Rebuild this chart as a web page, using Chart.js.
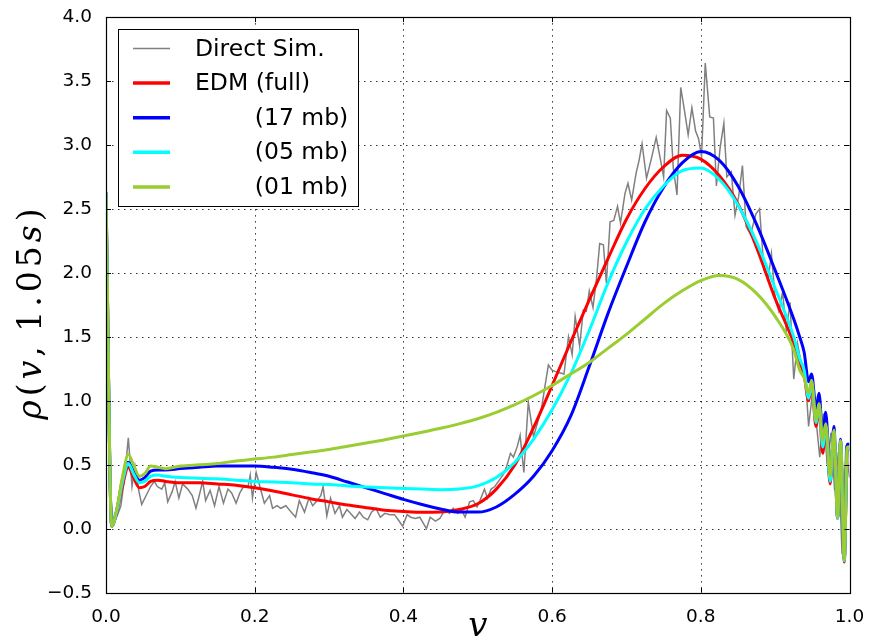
<!DOCTYPE html>
<html>
<head>
<meta charset="utf-8">
<script src="https://cdn.jsdelivr.net/npm/chart.js@4.4.0/dist/chart.umd.min.js"></script>
<style>
html, body { margin: 0; padding: 0; background: #fff; }
</style>
</head>
<body>
<canvas id="rhoChart" width="873" height="644"></canvas>
<script>
// direct simulation (noisy gray line)
const simV = [0, 0.005, 0.01, 0.015, 0.02, 0.025, 0.03, 0.035, 0.039, 0.044, 0.048, 0.054, 0.06, 0.065, 0.069, 0.075, 0.079, 0.083, 0.089, 0.093,
    0.098, 0.103, 0.11, 0.116, 0.121, 0.125, 0.13, 0.134, 0.14, 0.146, 0.152, 0.158, 0.164, 0.169, 0.175, 0.18, 0.185, 0.191, 0.194, 0.197,
    0.202, 0.207, 0.213, 0.22, 0.224, 0.23, 0.235, 0.242, 0.249, 0.255, 0.26, 0.267, 0.273, 0.278, 0.284, 0.289, 0.292, 0.297, 0.302, 0.308,
    0.314, 0.318, 0.324, 0.329, 0.335, 0.341, 0.346, 0.352, 0.357, 0.363, 0.369, 0.375, 0.382, 0.388, 0.393, 0.399, 0.405, 0.41, 0.416, 0.422,
    0.431, 0.436, 0.443, 0.449, 0.456, 0.462, 0.467, 0.473, 0.479, 0.483, 0.489, 0.494, 0.499, 0.503, 0.509, 0.513, 0.518, 0.523, 0.529, 0.535,
    0.539, 0.544, 0.548, 0.553, 0.557, 0.562, 0.568, 0.575, 0.581, 0.586, 0.59, 0.595, 0.6, 0.604, 0.61, 0.616, 0.622, 0.627, 0.631, 0.637,
    0.642, 0.646, 0.65, 0.655, 0.66, 0.664, 0.669, 0.673, 0.678, 0.683, 0.688, 0.692, 0.698, 0.702, 0.707, 0.713, 0.717, 0.721, 0.727, 0.733,
    0.74, 0.745, 0.75, 0.754, 0.759, 0.763, 0.768, 0.773, 0.778, 0.783, 0.788, 0.793, 0.797, 0.801, 0.806, 0.812, 0.817, 0.821, 0.826, 0.831,
    0.835, 0.841, 0.846, 0.851, 0.856, 0.861, 0.867, 0.874, 0.879, 0.885, 0.891, 0.895, 0.9, 0.905, 0.91, 0.915, 0.92, 0.925, 0.93, 0.935,
    0.94, 0.945, 0.95, 0.955, 0.96, 0.965, 0.97, 0.975, 0.98, 0.985, 0.99, 0.995, 1.0];
const simRho = [2.60, 0.30, 0.05, 0.10, 0.18, 0.40, 0.71, 0.33, 0.49, 0.30, 0.19, 0.26, 0.33, 0.37, 0.33, 0.31, 0.36, 0.21, 0.29, 0.37,
    0.24, 0.35, 0.31, 0.26, 0.16, 0.25, 0.37, 0.22, 0.30, 0.18, 0.33, 0.20, 0.31, 0.28, 0.20, 0.28, 0.33, 0.33, 0.42, 0.24,
    0.44, 0.33, 0.20, 0.26, 0.16, 0.18, 0.16, 0.18, 0.13, 0.09, 0.22, 0.13, 0.24, 0.18, 0.22, 0.26, 0.33, 0.10, 0.24, 0.12,
    0.18, 0.09, 0.15, 0.12, 0.08, 0.13, 0.09, 0.07, 0.13, 0.16, 0.09, 0.12, 0.11, 0.11, 0.07, 0.02, 0.11, 0.09, 0.08, 0.09,
    0.00, 0.09, 0.06, 0.08, 0.15, 0.12, 0.16, 0.12, 0.14, 0.09, 0.21, 0.22, 0.17, 0.22, 0.31, 0.24, 0.31, 0.33, 0.38, 0.43,
    0.49, 0.59, 0.56, 0.64, 0.73, 0.44, 0.99, 0.72, 0.84, 0.95, 1.10, 1.28, 1.24, 1.23, 1.22, 1.21, 1.50, 1.36, 1.66, 1.43,
    1.71, 1.70, 1.86, 1.73, 1.97, 2.23, 2.22, 1.92, 2.40, 2.41, 2.52, 2.39, 2.62, 2.70, 2.57, 2.78, 2.88, 3.01, 2.74, 2.88,
    3.06, 2.91, 2.75, 3.27, 3.21, 2.82, 2.61, 3.45, 3.27, 3.08, 3.29, 3.11, 3.05, 2.91, 3.64, 3.22, 3.21, 2.68, 2.98, 3.17,
    2.75, 2.79, 2.45, 2.60, 2.84, 2.36, 2.30, 2.46, 2.50, 2.02, 1.97, 2.15, 1.80, 1.70, 1.85, 1.55, 1.77, 1.17, 1.45, 1.30,
    1.25, 0.80, 1.05, 0.85, 0.56, 0.90, 0.50, 0.75, 0.30, 0.60, -0.20, 0.65, 0.40];

// EDM curves, all sampled on the same v values
const edmV = [0, 0.0077, 0.015, 0.022, 0.03, 0.037, 0.045, 0.052, 0.06, 0.07, 0.08,
    0.1, 0.125, 0.15, 0.175, 0.2, 0.225, 0.25, 0.275, 0.3, 0.325, 0.35, 0.375, 0.4, 0.425, 0.45, 0.475,
    0.5, 0.525, 0.55, 0.575, 0.6, 0.625, 0.65, 0.675, 0.7, 0.725, 0.75, 0.775, 0.8, 0.825, 0.85, 0.875, 0.9, 0.925,
    0.933, 0.939, 0.945, 0.949, 0.955, 0.959, 0.964, 0.968, 0.974, 0.979, 0.984, 0.988, 0.993, 0.997, 1.0];
const edmFull = [2.60, 0.02, 0.14, 0.33, 0.48, 0.40, 0.32, 0.33, 0.37, 0.38, 0.37,
    0.36, 0.36, 0.35, 0.34, 0.32, 0.295, 0.265, 0.235, 0.21, 0.185, 0.165, 0.145, 0.135, 0.128, 0.13, 0.15,
    0.195, 0.31, 0.50, 0.79, 1.12, 1.46, 1.79, 2.11, 2.42, 2.66, 2.83, 2.92, 2.89, 2.76, 2.54, 2.20, 1.80, 1.45,
    1.30, 1.20, 1.00, 1.12, 0.80, 0.95, 0.59, 0.80, 0.35, 0.75, 0.08, 0.67, -0.26, 0.62, 0.62];
const edm17 = [2.63, 0.02, 0.16, 0.38, 0.52, 0.45, 0.38, 0.40, 0.45, 0.46, 0.46,
    0.47, 0.48, 0.49, 0.49, 0.49, 0.48, 0.465, 0.44, 0.41, 0.365, 0.32, 0.275, 0.23, 0.19, 0.155, 0.13,
    0.13, 0.17, 0.27, 0.41, 0.61, 0.88, 1.27, 1.68, 2.05, 2.40, 2.67, 2.86, 2.95, 2.88, 2.68, 2.38, 2.02, 1.64,
    1.50, 1.38, 1.15, 1.21, 0.94, 1.06, 0.72, 0.91, 0.38, 0.80, 0.09, 0.70, -0.24, 0.66, 0.66];
const edm05 = [2.60, 0.02, 0.15, 0.36, 0.51, 0.43, 0.36, 0.37, 0.41, 0.42, 0.41,
    0.40, 0.395, 0.39, 0.38, 0.37, 0.365, 0.36, 0.35, 0.345, 0.335, 0.327, 0.32, 0.315, 0.31, 0.305, 0.31,
    0.335, 0.40, 0.52, 0.70, 0.93, 1.21, 1.55, 1.92, 2.24, 2.50, 2.68, 2.80, 2.82, 2.73, 2.53, 2.24, 1.88, 1.50,
    1.33, 1.24, 1.02, 1.14, 0.83, 0.97, 0.64, 0.81, 0.37, 0.76, 0.08, 0.68, -0.25, 0.63, 0.63];
const edm01 = [2.62, 0.02, 0.17, 0.40, 0.58, 0.50, 0.41, 0.43, 0.49, 0.48, 0.47,
    0.49, 0.50, 0.51, 0.53, 0.545, 0.56, 0.58, 0.60, 0.62, 0.645, 0.67, 0.695, 0.725, 0.755, 0.785, 0.82,
    0.86, 0.91, 0.97, 1.04, 1.12, 1.21, 1.30, 1.41, 1.52, 1.64, 1.76, 1.86, 1.94, 1.98, 1.95, 1.84, 1.66, 1.40,
    1.24, 1.18, 1.06, 1.16, 0.85, 0.98, 0.69, 0.82, 0.41, 0.77, 0.09, 0.69, -0.24, 0.64, 0.64];

const seriesLabels = ['Direct Sim.', 'EDM (full)', '        (17 mb)', '        (05 mb)', '        (01 mb)'];
const seriesColors = ['#808080', '#ff0000', '#0000ff', '#00ffff', '#9acd32'];

const toPoints = (xs, ys) => xs.map((x, i) => ({ x: x, y: ys[i] }));

function edmSet(idx, values) {
    return {
        label: seriesLabels[idx],
        data: toPoints(edmV, values),
        borderColor: seriesColors[idx],
        borderWidth: 3,
        pointRadius: 0,
        cubicInterpolationMode: 'monotone',
        order: 5 - idx
    };
}

// matplotlib-like frame, dotted grid, inward ticks, legend box and axis labels
const mplLook = {
    id: 'mplLook',
    beforeDatasetsDraw(chart) {
        const { ctx, chartArea: a, scales: { x, y } } = chart;
        ctx.save();
        ctx.strokeStyle = 'rgba(0,0,0,0.8)';
        ctx.lineWidth = 1;
        ctx.setLineDash([1.5, 4.5]);
        x.ticks.forEach(t => {
            const px = Math.round(x.getPixelForValue(t.value)) + 0.5;
            ctx.beginPath(); ctx.moveTo(px, a.top); ctx.lineTo(px, a.bottom); ctx.stroke();
        });
        y.ticks.forEach(t => {
            const py = Math.round(y.getPixelForValue(t.value)) + 0.5;
            ctx.beginPath(); ctx.moveTo(a.left, py); ctx.lineTo(a.right, py); ctx.stroke();
        });
        ctx.restore();
    },
    afterDatasetsDraw(chart) {
        const { ctx, chartArea: a, scales: { x, y } } = chart;
        ctx.save();
        ctx.strokeStyle = '#000';
        ctx.lineWidth = 1;
        ctx.setLineDash([]);
        const tl = 5;
        x.ticks.forEach(t => {
            const px = Math.round(x.getPixelForValue(t.value)) + 0.5;
            ctx.beginPath();
            ctx.moveTo(px, a.bottom); ctx.lineTo(px, a.bottom - tl);
            ctx.moveTo(px, a.top); ctx.lineTo(px, a.top + tl);
            ctx.stroke();
        });
        y.ticks.forEach(t => {
            const py = Math.round(y.getPixelForValue(t.value)) + 0.5;
            ctx.beginPath();
            ctx.moveTo(a.left, py); ctx.lineTo(a.left + tl, py);
            ctx.moveTo(a.right, py); ctx.lineTo(a.right - tl, py);
            ctx.stroke();
        });
        ctx.lineWidth = 1.2;
        ctx.strokeRect(Math.round(a.left) + 0.5, Math.round(a.top) + 0.5,
            Math.round(a.right - a.left), Math.round(a.bottom - a.top));

        // legend
        ctx.fillStyle = '#fff';
        ctx.fillRect(118, 29, 241, 178);
        ctx.lineWidth = 1;
        ctx.strokeStyle = '#000';
        ctx.strokeRect(118.5, 29.5, 240, 177);
        ctx.font = '23.5px "DejaVu Sans"';
        ctx.textBaseline = 'middle';
        ctx.textAlign = 'left';
        chart.data.datasets.forEach((ds, i) => {
            const ry = 48.5 + i * 34.6;
            ctx.strokeStyle = ds.borderColor;
            ctx.lineWidth = ds.borderWidth + (i === 0 ? 0 : 0.5);
            ctx.beginPath(); ctx.moveTo(133, ry); ctx.lineTo(170, ry); ctx.stroke();
            ctx.fillStyle = '#000';
            ctx.fillText(ds.label, 195, ry + 1);
        });

        // axis labels
        ctx.fillStyle = '#000';
        ctx.font = 'italic 34px "DejaVu Serif"';
        ctx.textAlign = 'center';
        ctx.textBaseline = 'alphabetic';
        ctx.fillText('v', (a.left + a.right) / 2, 636);

        const parts = [['ρ', true], ['(', false], ['v', true], [',\u2009', false], ['1.05', false], ['s', true], [')', false]];
        const fontOf = it => (it ? 'italic ' : '') + '33px "DejaVu Serif"';
        ctx.letterSpacing = '4px';
        let total = 0;
        parts.forEach(p => { ctx.font = fontOf(p[1]); total += ctx.measureText(p[0]).width; });
        ctx.translate(41, 312);
        ctx.rotate(-Math.PI / 2);
        ctx.textAlign = 'left';
        let cx = -total / 2;
        parts.forEach(p => {
            ctx.font = fontOf(p[1]);
            ctx.fillText(p[0], cx, 0);
            cx += ctx.measureText(p[0]).width;
        });
        ctx.restore();
    }
};

const ctx = document.getElementById('rhoChart').getContext('2d');
const chart = new Chart(ctx, {
    type: 'line',
    data: {
        datasets: [
            {
                label: seriesLabels[0],
                data: toPoints(simV, simRho),
                borderColor: seriesColors[0],
                borderWidth: 1.5,
                pointRadius: 0,
                tension: 0,
                order: 5
            },
            edmSet(1, edmFull),
            edmSet(2, edm17),
            edmSet(3, edm05),
            edmSet(4, edm01)
        ]
    },
    options: {
        responsive: false,
        animation: false,
        layout: { padding: { left: 0, right: 23.5, top: 16.7, bottom: 0 } },
        plugins: { legend: { display: false }, tooltip: { enabled: false } },
        scales: {
            x: {
                type: 'linear',
                min: 0,
                max: 1,
                grid: { display: false },
                border: { display: false },
                ticks: {
                    stepSize: 0.2,
                    padding: 5,
                    maxRotation: 0,
                    color: '#000',
                    font: { family: 'DejaVu Sans', size: 18.5 },
                    callback: v => v.toFixed(1)
                },
                afterFit: s => { s.height = 51.3; }
            },
            y: {
                min: -0.5,
                max: 4,
                grid: { display: false },
                border: { display: false },
                ticks: {
                    stepSize: 0.5,
                    padding: 6,
                    color: '#000',
                    font: { family: 'DejaVu Sans', size: 18.5 },
                    callback: v => v.toFixed(1).replace('-', '\u2212')
                },
                afterFit: s => { s.width = 106; }
            }
        }
    },
    plugins: [mplLook]
});
</script>
</body>
</html>
